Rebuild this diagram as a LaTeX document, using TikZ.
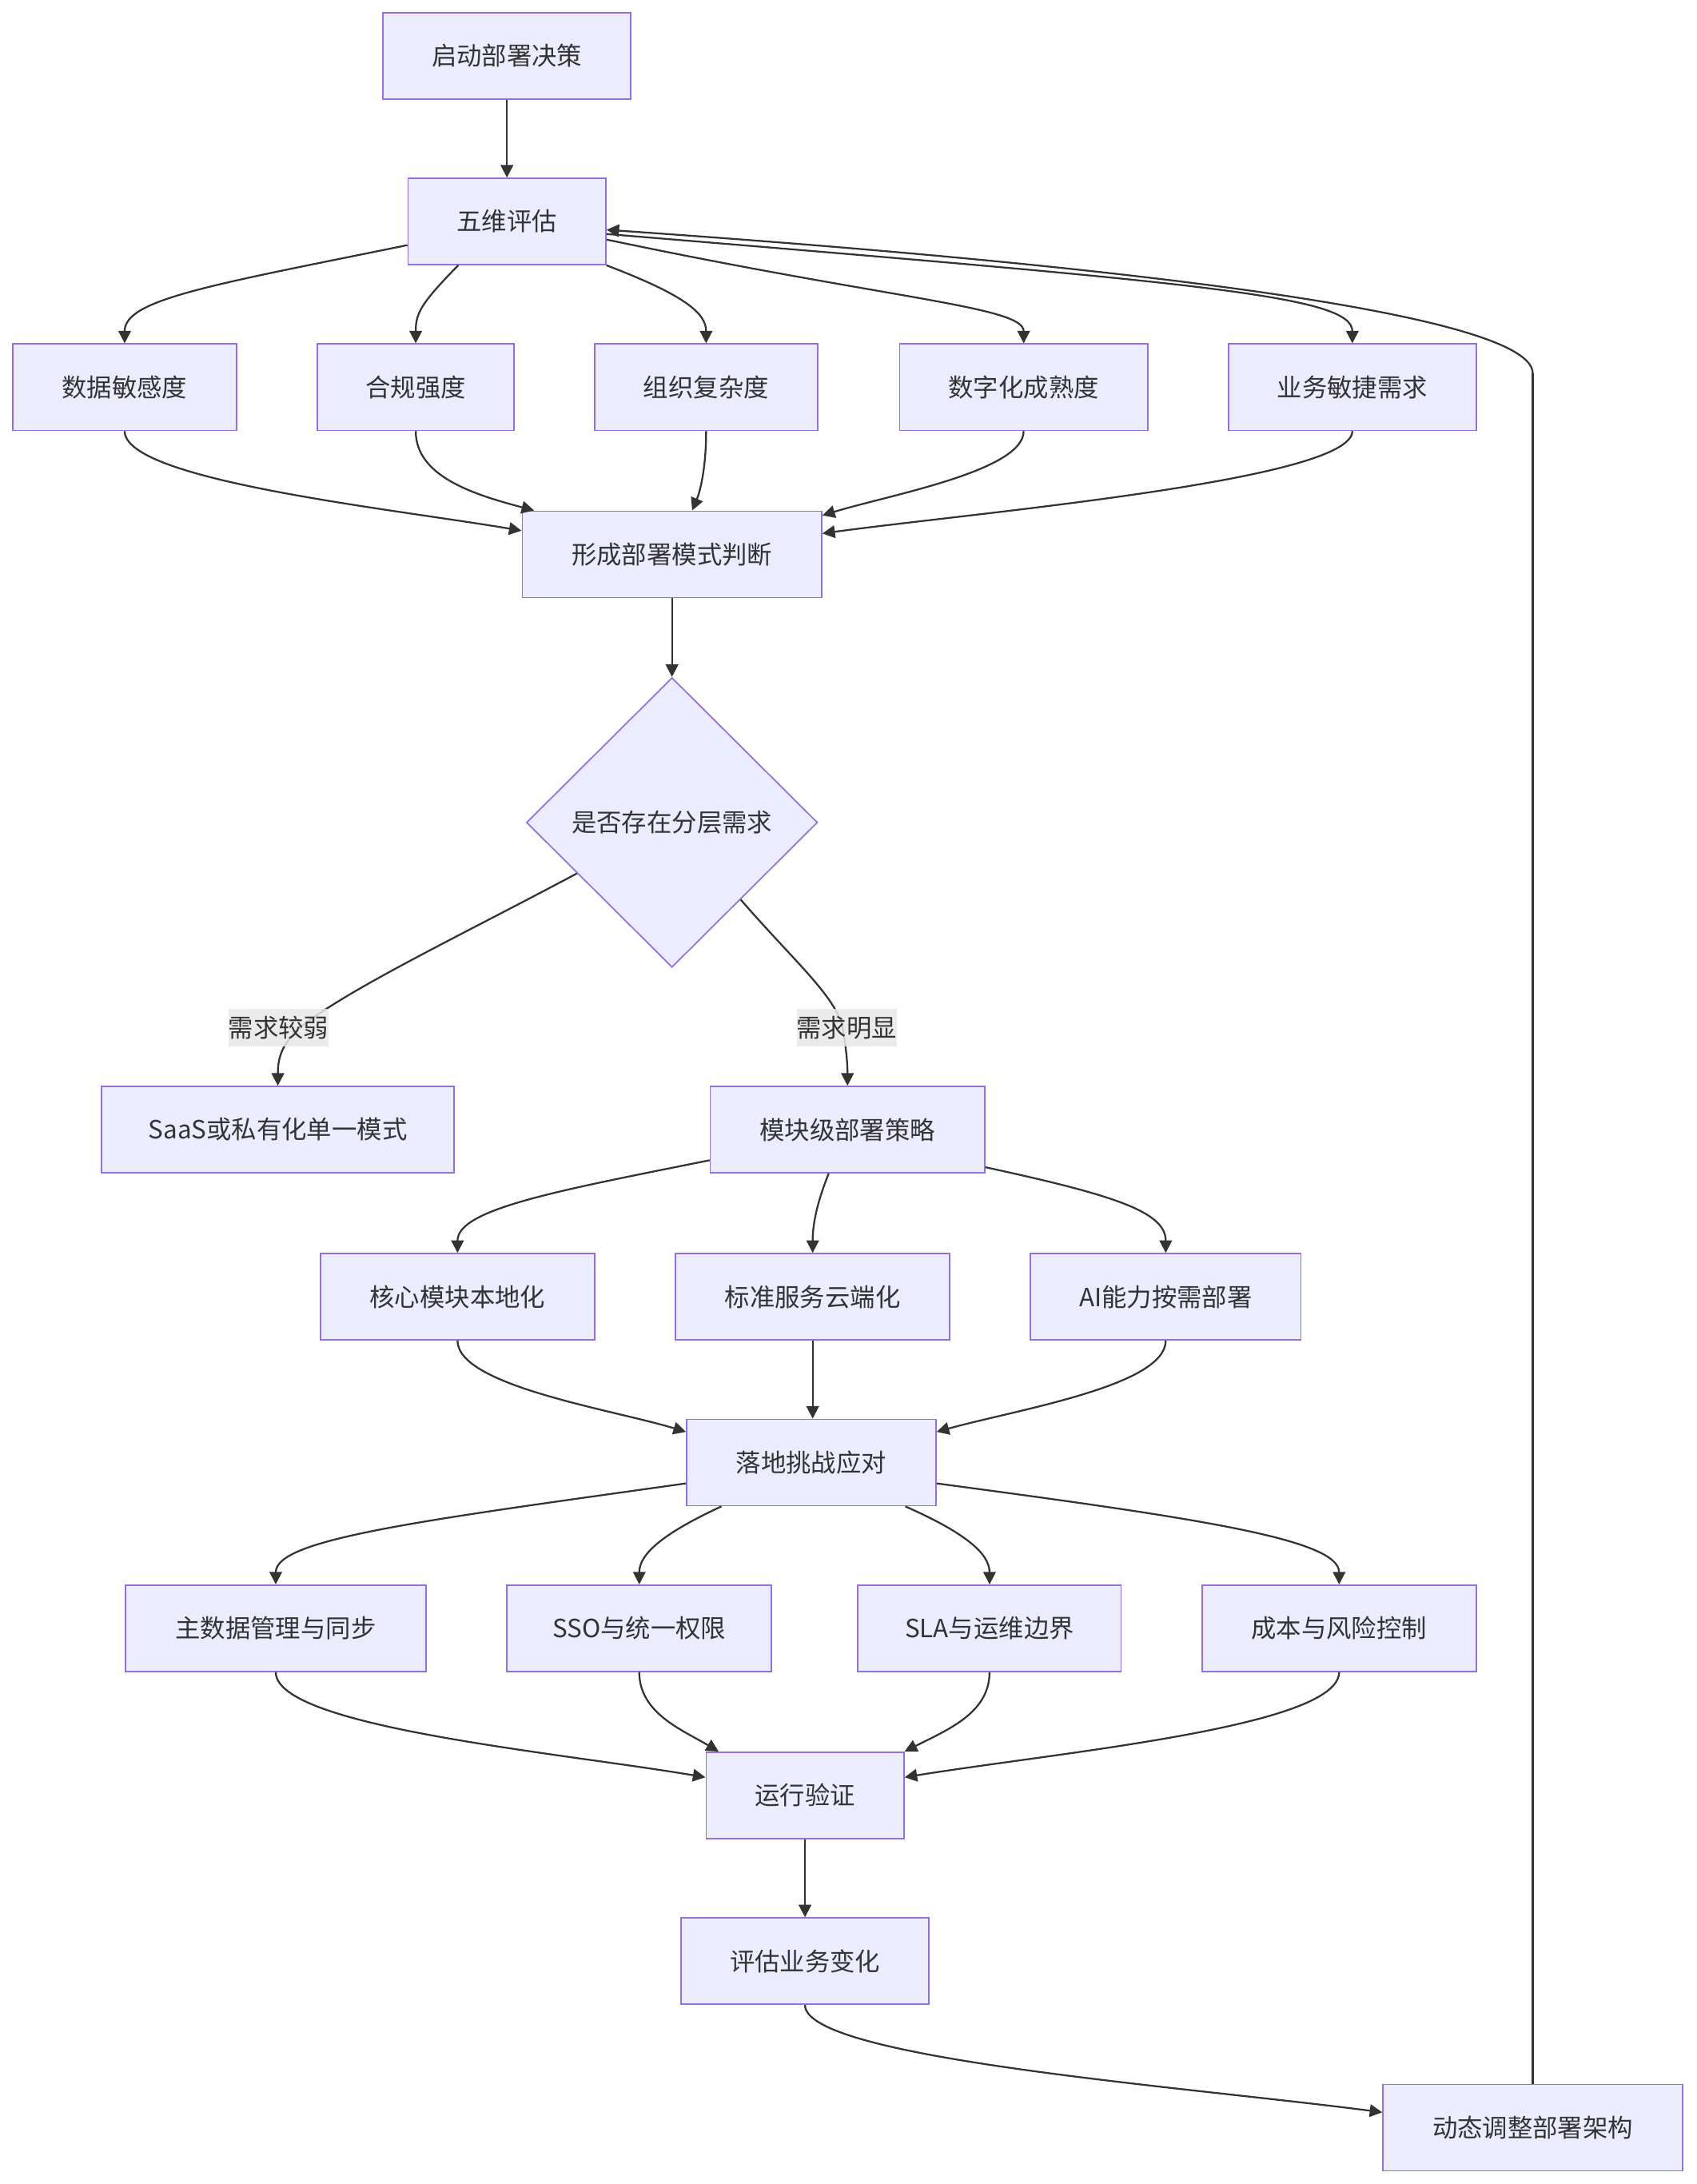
\documentclass[tikz,border=0pt]{standalone}
\usepackage{fontspec}
\setmainfont{Noto Sans CJK SC}
\usetikzlibrary{arrows.meta,shapes.geometric,calc}
\definecolor{boxfill}{HTML}{ECECFF}
\definecolor{boxline}{HTML}{9370DB}
\definecolor{txt}{HTML}{333333}
\definecolor{edgec}{HTML}{333333}
\definecolor{lblbg}{HTML}{E8E8E8}
\begin{document}
\begin{tikzpicture}[x=1pt,y=-1pt,
  box/.style={draw=boxline,fill=boxfill,line width=1pt,text=txt,inner sep=0pt,minimum height=62pt,font=\fontsize{18}{22}\selectfont},
  dia/.style={diamond,draw=boxline,fill=boxfill,line width=1pt,text=txt,inner sep=0pt,minimum width=209pt,minimum height=208pt,font=\fontsize{18}{22}\selectfont},
  lbl/.style={fill=lblbg,fill opacity=0.85,text opacity=1,text=txt,inner sep=0pt,minimum height=27pt,font=\fontsize{18}{22}\selectfont},
  link/.style={draw=edgec,line width=1.3pt,-{Triangle[length=9pt,width=9pt]}},
  plain/.style={draw=edgec,line width=1.3pt}]
\useasboundingbox (0,0) rectangle (1218,1568);

\node[box,minimum width=178pt] (s) at (364,40) {启动部署决策};
\node[box,minimum width=142pt] (b) at (364,159) {五维评估};
\node[box,minimum width=161pt] (r1) at (89.5,278) {数据敏感度};
\node[box,minimum width=141pt] (r2) at (298.5,278) {合规强度};
\node[box,minimum width=160pt] (r3) at (507,278) {组织复杂度};
\node[box,minimum width=178pt] (r4) at (735,278) {数字化成熟度};
\node[box,minimum width=178pt] (r5) at (971,278) {业务敏捷需求};
\node[box,minimum width=215pt] (f) at (482.5,398) {形成部署模式判断};
\node[dia] (d) at (482.5,590.5) {是否存在分层需求};
\node[box,minimum width=253pt] (m1) at (199.5,811) {SaaS或私有化单一模式};
\node[box,minimum width=197pt] (m2) at (608.5,811) {模块级部署策略};
\node[box,minimum width=197pt] (c1) at (328.5,931) {核心模块本地化};
\node[box,minimum width=197pt] (c2) at (583.5,931) {标准服务云端化};
\node[box,minimum width=194pt] (c3) at (837,931) {AI能力按需部署};
\node[box,minimum width=179pt] (g) at (582.5,1050) {落地挑战应对};
\node[box,minimum width=216pt] (t1) at (198,1169) {主数据管理与同步};
\node[box,minimum width=190pt] (t2) at (459,1169) {SSO与统一权限};
\node[box,minimum width=189pt] (t3) at (710.5,1169) {SLA与运维边界};
\node[box,minimum width=197pt] (t4) at (961.5,1169) {成本与风险控制};
\node[box,minimum width=142pt] (v) at (578,1289) {运行验证};
\node[box,minimum width=178pt] (e) at (578,1408) {评估业务变化};
\node[box,minimum width=215pt] (z) at (1100.5,1527.5) {动态调整部署架构};
\coordinate (zk) at (1100.5,268);

% top
\draw[link] (s.south) -- (b.north);
\draw[link] ([yshift=-17pt]b.west) .. controls (150,205) and (89.5,215) .. (r1.north);
\draw[link] ([xshift=-35pt]b.south) .. controls (302,218) and (298.5,225) .. (r2.north);
\draw[link] (b.south east) .. controls (492,212) and (507,225) .. (r3.north);
\draw[link] ([yshift=-13pt]b.east) .. controls (640,215) and (735,220) .. (r4.north);
\draw[link] ([yshift=-9pt]b.east) .. controls (860,203) and (971,212) .. (r5.north);
% feedback
\draw[plain] (z.north) -- (zk);
\draw[link] (zk) .. controls (1100.5,225) and (800,190) .. ([yshift=-6pt]b.east);

% into f
\draw[link] (r1.south) .. controls (89.5,345) and (280,365) .. ([yshift=17pt]f.west);
\draw[link] (r2.south) .. controls (298.5,342) and (340,355) .. ([xshift=-99pt]f.north);
\draw[link] (r3.south) .. controls (507,335) and (503,352) .. ([xshift=14.5pt]f.north);
\draw[link] (r4.south) .. controls (735,338) and (640,355) .. ([yshift=28pt]f.east);
\draw[link] (r5.south) .. controls (971,345) and (700,368) .. ([yshift=15pt]f.east);

\draw[link] (f.south) -- (d.north);

% decision branches
\draw[link] ($(d.west)!0.35!(d.south)$) .. controls (330,672) and (250,710) .. (215,738) .. controls (202,750) and (199.5,760) .. (m1.north);
\draw[link] ($(d.east)!0.53!(d.south)$) .. controls (570,690) and (600,715) .. (605,738) .. controls (608,755) and (608.5,765) .. (m2.north);
\node[lbl] (l1) at (200,738) {需求较弱};
\node[lbl] (l2) at (608,738) {需求明显};

% module strategy
\draw[link] ([yshift=-22pt]m2.west) .. controls (400,855) and (328.5,868) .. (c1.north);
\draw[link] ([xshift=-13.5pt]m2.south) .. controls (586,865) and (583.5,880) .. (c2.north);
\draw[link] ([yshift=-27pt]m2.east) .. controls (800,858) and (837,870) .. (c3.north);

\draw[link] (c1.south) .. controls (328.5,995) and (440,1012) .. ([yshift=22pt]g.west);
\draw[link] (c2.south) -- (c2.south |- g.north);
\draw[link] (c3.south) .. controls (837,995) and (730,1012) .. ([yshift=22pt]g.east);

% challenges
\draw[link] ([yshift=-15pt]g.west) .. controls (300,1092) and (198,1105) .. (t1.north);
\draw[link] ([xshift=-64.5pt]g.south) .. controls (478,1100) and (459,1115) .. (t2.north);
\draw[link] ([xshift=67.5pt]g.south) .. controls (692,1100) and (710.5,1115) .. (t3.north);
\draw[link] ([yshift=-15pt]g.east) .. controls (860,1090) and (961.5,1105) .. (t4.north);

\draw[link] (t1.south) .. controls (198,1240) and (400,1258) .. ([yshift=13pt]v.west);
\draw[link] (t2.south) .. controls (459,1230) and (490,1242) .. ([xshift=-62pt]v.north);
\draw[link] (t3.south) .. controls (710.5,1230) and (680,1242) .. (v.north east);
\draw[link] (t4.south) .. controls (961.5,1240) and (760,1258) .. ([yshift=13pt]v.east);

\draw[link] (v.south) -- (e.north);
\draw[link] (e.south) .. controls (578,1478) and (850,1498) .. ([yshift=11pt]z.west);
\end{tikzpicture}
\end{document}
